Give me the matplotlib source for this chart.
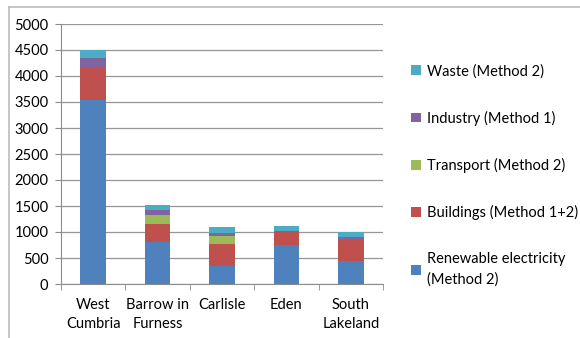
import matplotlib.pyplot as plt
import numpy as np
from matplotlib.lines import Line2D
from matplotlib.patches import Patch

plt.rcParams['font.family'] = ['Lato', 'DejaVu Sans']

districts = ["West\nCumbria", "Barrow in\nFurness", "Carlisle", "Eden", "South\nLakeland"]
renewable = [3530, 800, 340, 750, 450]
buildings = [650, 350, 420, 270, 400]
transport = [0, 180, 160, 0, 0]
industry = [160, 90, 70, 0, 60]
waste = [160, 90, 110, 100, 90]

series_labels = ["Renewable electricity\n(Method 2)", "Buildings (Method 1+2)",
                 "Transport (Method 2)", "Industry (Method 1)", "Waste (Method 2)"]
colors = ["#4F81BD", "#C0504D", "#9BBB59", "#8064A2", "#4BACC6"]

fig = plt.figure(figsize=(5.80, 3.38), dpi=100)
ax = fig.add_axes([61 / 580, 1 - 284 / 338, (383 - 61) / 580, (284 - 24) / 338])

x = np.arange(len(districts))
bottom = np.zeros(len(districts))
for vals, col in zip([renewable, buildings, transport, industry, waste], colors):
    ax.bar(x, vals, width=0.4, bottom=bottom, color=col, zorder=3)
    bottom += np.array(vals)

ax.set_xlim(-0.5, len(districts) - 0.5)
ax.set_ylim(0, 5000)
ax.set_yticks(np.arange(0, 5001, 500))
ax.yaxis.grid(True, color="#969696", linewidth=0.9, zorder=0)
ax.set_xticks(x)
ax.set_xticklabels(districts, fontsize=10.5, linespacing=1.5)
ax.tick_params(axis='x', length=0, pad=10)
ax.set_xticks(np.arange(-0.5, len(districts), 1), minor=True)
ax.tick_params(axis='x', which='minor', length=4, color="#8c8c8c")
ax.tick_params(axis='y', length=4, color="#8c8c8c", labelsize=10.5, pad=5)
for s in ['top', 'right']:
    ax.spines[s].set_visible(False)
for s in ['left', 'bottom']:
    ax.spines[s].set_color("#8c8c8c")

# Legend entries (top to bottom) on the right side
handles = [Patch(facecolor=c) for c in colors[::-1]]
leg = fig.legend(handles, series_labels[::-1], loc='upper left',
                 bbox_to_anchor=(398 / 580, 1 - 51 / 338), frameon=False,
                 fontsize=10.5, handlelength=0.65, handleheight=0.65,
                 handletextpad=0.45, labelspacing=2.2)
for t in leg.get_texts():
    t.set_linespacing(1.55)

# Chart frame
fig.add_artist(Line2D([9 / 580, 9 / 580], [0, 1 - 7 / 338], color="#bcbcbc", lw=1.2))
fig.add_artist(Line2D([9 / 580, 1], [1 - 7 / 338, 1 - 7 / 338], color="#bcbcbc", lw=1.2))

fig.savefig("out.png", dpi=100)
